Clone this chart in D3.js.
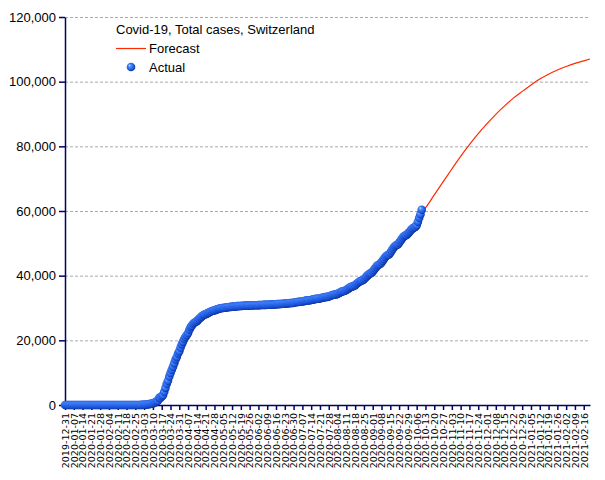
<!DOCTYPE html>
<html>
<head>
<meta charset="utf-8">
<script src="https://cdn.jsdelivr.net/npm/d3@7"></script>
<style>
  body { margin: 0; background: #fff; }
  svg { font-family: "Liberation Sans", Arial, sans-serif; }
</style>
</head>
<body>
<div id="chart"></div>
<script>
// chart data
var chartTitle = "Covid-19, Total cases, Switzerland";
var firstDay = "2019-12-31";
// daily cumulative cases from 2019-12-31 (one row = one week)
var actualCases = [
  0, 0, 0, 0, 0, 0, 0,
  0, 0, 0, 0, 0, 0, 0,
  0, 0, 0, 0, 0, 0, 0,
  0, 0, 0, 0, 0, 0, 0,
  0, 0, 0, 0, 0, 0, 0,
  0, 0, 0, 0, 0, 0, 0,
  0, 0, 0, 0, 0, 0, 0,
  0, 0, 0, 0, 0, 0, 0,
  1, 1, 8, 8, 18, 27, 42,
  56, 90, 114, 214, 268, 337, 374,
  491, 652, 858, 1139, 1359, 2200, 2200,
  2700, 3028, 4075, 5294, 6575, 7474, 8795,
  9877, 10897, 11811, 12928, 14076, 14829, 15922,
  16605, 17768, 18827, 19606, 20505, 21100, 21657,
  22253, 23280, 24051, 24551, 25107, 25415, 25688,
  25936, 26336, 26732, 27078, 27404, 27740, 27944,
  28063, 28268, 28496, 28677, 28894, 29061, 29164,
  29264, 29407, 29586, 29705, 29817, 29905, 29981,
  30009, 30060, 30126, 30207, 30251, 30305, 30344,
  30380, 30413, 30463, 30514, 30572, 30587, 30597,
  30618, 30658, 30694, 30707, 30725, 30736, 30746,
  30761, 30776, 30796, 30828, 30845, 30862, 30871,
  30874, 30893, 30913, 30936, 30956, 30965, 30972,
  30988, 31011, 31044, 31063, 31094, 31117, 31131,
  31154, 31187, 31200, 31235, 31243, 31292, 31310,
  31332, 31376, 31428, 31486, 31520, 31545, 31560,
  31600, 31680, 31760, 31840, 31890, 31920, 31950,
  32010, 32100, 32190, 32270, 32330, 32360, 32400,
  32480, 32580, 32680, 32760, 32820, 32850, 32880,
  32960, 33070, 33180, 33290, 33370, 33410, 33450,
  33560, 33700, 33850, 34000, 34110, 34170, 34220,
  34380, 34580, 34790, 34990, 35150, 35250, 35320,
  35560, 35830, 36100, 36370, 36580, 36700, 36800,
  37080, 37400, 37720, 38050, 38300, 38450, 38560,
  38900, 39300, 39700, 40100, 40450, 40700, 40850,
  41300, 41800, 42300, 42800, 43200, 43450, 43600,
  44100, 44650, 45200, 45750, 46150, 46400, 46550,
  47100, 47700, 48300, 48850, 49250, 49500, 49650,
  50150, 50700, 51250, 51800, 52200, 52450, 52600,
  53000, 53450, 53900, 54350, 54700, 54900, 55100,
  55600, 56700, 57900, 59000, 60400
];
var forecastDates = [
  "2020-10-11", "2020-10-13", "2020-10-20", "2020-10-27", "2020-11-03",
  "2020-11-10", "2020-11-17", "2020-11-24", "2020-12-01", "2020-12-08",
  "2020-12-15", "2020-12-22", "2020-12-29", "2021-01-05", "2021-01-12",
  "2021-01-19", "2021-01-26", "2021-02-02", "2021-02-09", "2021-02-16",
  "2021-02-21"
];
var forecastValues = [
  60100, 61000, 65000, 69000, 73000,
  76900, 80500, 83900, 87000, 89900,
  92500, 94900, 97000, 99000, 100800,
  102300, 103600, 104700, 105650, 106450,
  107000
];
var yTicks = [0, 20000, 40000, 60000, 80000, 100000, 120000];
var legendLabels = ["Forecast", "Actual"];

var parseDate = d3.utcParse("%Y-%m-%d");
var formatDate = d3.utcFormat("%Y-%m-%d");
var startDate = parseDate(firstDay);
var endDate = parseDate(forecastDates[forecastDates.length - 1]);
// weekly ticks on Tuesdays, starting with the first day
var tickDates = d3.utcTuesday.range(startDate, d3.utcDay.offset(endDate, 1));

var actual = actualCases.map(function (v, i) {
    return { date: d3.utcDay.offset(startDate, i), value: v };
});
var forecast = forecastDates.map(function (d, i) {
    return { date: parseDate(d), value: forecastValues[i] };
});

var width = 605, height = 480;
var margin = { top: 17, right: 15, bottom: 75, left: 65 };

var svg = d3.select("#chart")
    .append("svg")
    .attr("width", width)
    .attr("height", height);

var defs = svg.append("defs");
var grad = defs.append("radialGradient")
    .attr("id", "ball")
    .attr("cx", "45%").attr("cy", "45%").attr("r", "58%")
    .attr("fx", "32%").attr("fy", "30%");
grad.append("stop").attr("offset", "0%").attr("stop-color", "#c8dcff");
grad.append("stop").attr("offset", "30%").attr("stop-color", "#4a88ff");
grad.append("stop").attr("offset", "75%").attr("stop-color", "#1c58e0");
grad.append("stop").attr("offset", "100%").attr("stop-color", "#0a2a90");

var x = d3.scaleUtc()
    .domain([startDate, endDate])
    .range([margin.left, width - margin.right]);

var y = d3.scaleLinear()
    .domain([0, 120000])
    .range([height - margin.bottom, margin.top]);

// grid lines
svg.append("g")
    .selectAll("line")
    .data(yTicks.slice(1))
    .enter()
    .append("line")
    .attr("x1", x.range()[0])
    .attr("x2", x.range()[1])
    .attr("y1", function (d) { return y(d) + 0.5; })
    .attr("y2", function (d) { return y(d) + 0.5; })
    .attr("stroke", "#aaa")
    .attr("stroke-dasharray", "3,2");

// X axis
var xAxis = svg.append("g")
    .attr("transform", "translate(0," + (height - margin.bottom) + ")")
    .call(d3.axisBottom(x).tickValues(tickDates).tickFormat(formatDate).tickSize(5).tickSizeOuter(0));
xAxis.select(".domain").attr("stroke", "#000066").attr("stroke-width", 1.5);
xAxis.selectAll(".tick line").attr("stroke", "#000066").attr("stroke-width", 1.5);
xAxis.selectAll("text")
    .attr("transform", "rotate(-90)")
    .attr("x", -8)
    .attr("y", 0)
    .attr("dy", "0.35em")
    .style("text-anchor", "end")
    .style("font-family", "'DejaVu Sans', sans-serif")
    .style("font-size", "9.5px")
    .attr("fill", "#000");

// Y axis
var yAxis = svg.append("g")
    .attr("transform", "translate(" + margin.left + ",0)")
    .call(d3.axisLeft(y).tickValues(yTicks).tickFormat(d3.format(",")).tickSize(6).tickPadding(3).tickSizeOuter(0));
yAxis.select(".domain").attr("stroke", "#000066").attr("stroke-width", 1.5);
yAxis.selectAll(".tick line").attr("stroke", "#000066").attr("stroke-width", 1.5);
yAxis.selectAll("text")
    .style("font-size", "13px")
    .attr("fill", "#000");

// forecast line
svg.append("path")
    .datum(forecast)
    .attr("fill", "none")
    .attr("stroke", "#ff2a00")
    .attr("stroke-width", 1.2)
    .attr("d", d3.line()
        .x(function (d) { return x(d.date); })
        .y(function (d) { return y(d.value); })
        .curve(d3.curveMonotoneX));

// actual points
svg.append("g")
    .selectAll("circle")
    .data(actual)
    .enter()
    .append("circle")
    .attr("cx", function (d) { return x(d.date); })
    .attr("cy", function (d) { return y(d.value); })
    .attr("r", 4.3)
    .attr("fill", "url(#ball)");

// legend
var legend = svg.append("g").style("font-size", "13px");
legend.append("text")
    .attr("x", 116)
    .attr("y", 34)
    .text(chartTitle);
legend.append("line")
    .attr("x1", 116).attr("x2", 146)
    .attr("y1", 48.5).attr("y2", 48.5)
    .attr("stroke", "#ff2a00")
    .attr("stroke-width", 1.2);
legend.append("text")
    .attr("x", 149)
    .attr("y", 53)
    .text(legendLabels[0]);
legend.append("circle")
    .attr("cx", 131).attr("cy", 67)
    .attr("r", 4.3)
    .attr("fill", "url(#ball)");
legend.append("text")
    .attr("x", 149)
    .attr("y", 72)
    .text(legendLabels[1]);
</script>
</body>
</html>
